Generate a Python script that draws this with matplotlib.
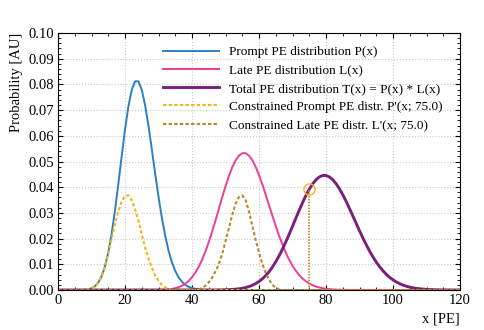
import numpy as np
import matplotlib
matplotlib.use("Agg")
from matplotlib import pyplot as plt
from matplotlib.ticker import MultipleLocator

# photo-electron counts 0..120 (integer grid)
x_pe = np.arange(0, 121)

# prompt PE distribution P(x)
prompt = [0.0] * 8 + [
    0.0001, 0.0003, 0.0007, 0.0014, 0.0029, 0.0053, 0.0091, 0.0146, 0.0219, 0.0309,
    0.0412, 0.0520, 0.0624, 0.0713, 0.0778, 0.0812, 0.0812, 0.0779, 0.0719, 0.0639,
    0.0548, 0.0453, 0.0363, 0.0281, 0.0211, 0.0153, 0.0108, 0.0074, 0.0049, 0.0032,
    0.0020, 0.0012, 0.0008, 0.0004, 0.0003, 0.0001, 0.0001,
] + [0.0] * 76

# late PE distribution L(x)
late = [0.0] * 30 + [
    0.00005, 0.00009, 0.00016, 0.00027, 0.00045, 0.00071, 0.00111, 0.00167, 0.00247, 0.00354,
    0.00496, 0.00677, 0.00903, 0.01176, 0.01497, 0.01863, 0.02268, 0.02702, 0.03152, 0.03602,
    0.04034, 0.04430, 0.04771, 0.05041, 0.05228, 0.05323, 0.05323, 0.05230, 0.05050, 0.04793,
    0.04473, 0.04106, 0.03709, 0.03297, 0.02885, 0.02486, 0.02109, 0.01763, 0.01452, 0.01178,
    0.00943, 0.00744, 0.00578, 0.00444, 0.00336, 0.00251, 0.00185, 0.00134, 0.00097, 0.00069,
    0.00048, 0.00033, 0.00023, 0.00015, 0.00010, 0.00007, 0.00004,
] + [0.0] * 34

# total PE distribution T(x) = P(x) * L(x)
total = [0.0] * 46 + [
    0.00001, 0.00002, 0.00004, 0.00006, 0.00009, 0.00014, 0.00021, 0.00031, 0.00046, 0.00067,
    0.00095, 0.00133, 0.00184, 0.00249, 0.00332, 0.00436, 0.00562, 0.00714, 0.00893, 0.01099,
    0.01332, 0.01590, 0.01871, 0.02169, 0.02479, 0.02793, 0.03103, 0.03401, 0.03677, 0.03922,
    0.04128, 0.04289, 0.04399, 0.04455, 0.04455, 0.04400, 0.04293, 0.04138, 0.03941, 0.03709,
    0.03450, 0.03172, 0.02884, 0.02592, 0.02304, 0.02026, 0.01762, 0.01516, 0.01290, 0.01086,
    0.00905, 0.00746, 0.00609, 0.00492, 0.00394, 0.00312, 0.00245, 0.00190, 0.00146, 0.00111,
    0.00084, 0.00063, 0.00047, 0.00034, 0.00025, 0.00018, 0.00013, 0.00009, 0.00006, 0.00004,
    0.00003, 0.00002, 0.00001, 0.00001, 0.00001,
]

# constrained distributions for total = 75 PE
constr_prompt = [0.0] * 8 + [
    0.0001, 0.0003, 0.0007, 0.0014, 0.0029, 0.0053, 0.0090, 0.0142, 0.0200, 0.0257,
    0.0305, 0.0345, 0.0366, 0.0368, 0.0350, 0.0315, 0.0270, 0.0215, 0.0165, 0.0123,
    0.0087, 0.0057, 0.0035, 0.0020, 0.0010, 0.0004, 0.0001,
] + [0.0] * 86

constr_late = [0.0] * 42 + [
    0.0002, 0.0007, 0.0017, 0.0030, 0.0048, 0.0072, 0.0100, 0.0140, 0.0190, 0.0240,
    0.0292, 0.0335, 0.0362, 0.0368, 0.0350, 0.0305, 0.0250, 0.0195, 0.0145, 0.0102,
    0.0068, 0.0040, 0.0020, 0.0008, 0.0002,
] + [0.0] * 54

n_total = 75

plt.rcParams["font.family"] = ["Liberation Serif", "DejaVu Serif"]

fig = plt.figure(figsize=(4.85, 3.3), dpi=100)
ax = fig.add_axes([0.1196, 0.1212, 0.8289, 0.7788])

c_prompt = "#2f7fc0"
c_late = "#ee3d96"
c_total = "#7a1f7e"
c_cprompt = "#f4b41a"
c_clate = "#b8862b"

ax.plot(x_pe, prompt, color=c_prompt, lw=1.4, label="Prompt PE distribution P(x)")
ax.plot(x_pe, late, color=c_late, lw=1.4, label="Late PE distribution L(x)")
ax.plot(x_pe, total, color=c_total, lw=2.1, label="Total PE distribution T(x) = P(x) * L(x)")
ax.plot(x_pe, constr_prompt, color=c_cprompt, lw=1.5, ls=(0, (1.6, 1.1)),
        label="Constrained Prompt PE distr. P'(x; 75.0)")
ax.plot(x_pe, constr_late, color=c_clate, lw=1.5, ls=(0, (1.6, 1.1)),
        label="Constrained Late PE distr. L'(x; 75.0)")

# marker at the constraint
t_at = total[n_total]
ax.plot([n_total, n_total], [0, t_at], color=c_clate, lw=1.3, ls=(0, (0.8, 0.8)))
ax.plot([n_total], [t_at], marker="o", ms=8, mfc="none", mec=c_cprompt, mew=1.0)

ax.set_xlim(0, 120)
ax.set_ylim(0, 0.10)
ax.xaxis.set_major_locator(MultipleLocator(20))
ax.xaxis.set_minor_locator(MultipleLocator(5))
ax.yaxis.set_major_locator(MultipleLocator(0.01))
ax.yaxis.set_minor_locator(MultipleLocator(0.002))
ax.yaxis.set_major_formatter(plt.FormatStrFormatter("%.2f"))
ax.tick_params(which="both", direction="in", top=True, right=True, labelsize=10.5, pad=3)
ax.tick_params(which="major", length=3.5, width=0.8)
ax.tick_params(which="minor", length=2, width=0.6)
ax.grid(True, which="major", ls=":", color="#c8c8c8", lw=0.8)

ax.set_xlabel("x [PE]", fontsize=10.5, loc="right")
ax.set_ylabel("Probability [AU]", fontsize=10.5, loc="top")

ax.legend(loc="upper right", bbox_to_anchor=(0.971, 0.969), frameon=False,
          fontsize=9.5, handlelength=4.2, handletextpad=0.8, labelspacing=0.45,
          borderaxespad=0.0)

fig.savefig("out.png", dpi=100)
